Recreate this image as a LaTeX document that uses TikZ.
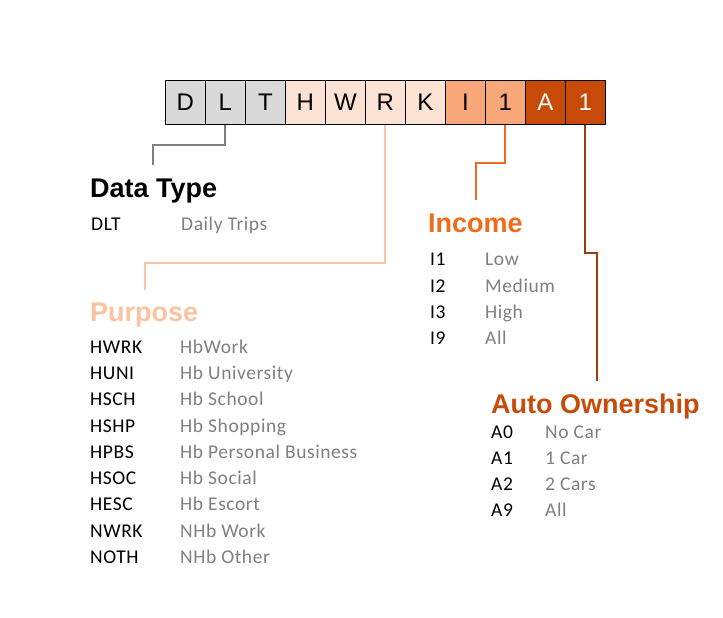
\documentclass[tikz,border=0pt]{standalone}
\usepackage{fontspec}
\setmainfont{Liberation Sans}
\newfontfamily\listfont[LetterSpace=3]{Carlito}
\definecolor{cgray}{HTML}{D9D9D9}
\definecolor{cpeach}{HTML}{FCE2D2}
\definecolor{cmid}{HTML}{F8A878}
\definecolor{cdark}{HTML}{C84A08}
\definecolor{lgray}{HTML}{7F7F7F}
\definecolor{lpeach}{HTML}{F9C7A6}
\definecolor{lorange}{HTML}{F26B1D}
\definecolor{ldark}{HTML}{9A3C0E}
\definecolor{hpeach}{HTML}{FAC3A2}
\definecolor{hdark}{HTML}{C84B0A}
\definecolor{desc}{HTML}{808080}
\begin{document}
\begin{tikzpicture}[x=1pt,y=-1pt,
  cell/.style={draw=black,line width=0.8pt,minimum width=40pt,minimum height=44pt,inner sep=0pt,anchor=north west,font=\fontsize{24}{24}\selectfont},
  head/.style={anchor=base west,inner sep=0pt,font=\fontsize{27}{27}\selectfont\bfseries},
  code/.style={anchor=base west,inner sep=0pt,font=\listfont\fontsize{19.5}{20}\selectfont,text=black},
  dsc/.style={anchor=base west,inner sep=0pt,font=\listfont\fontsize{19.5}{20}\selectfont,text=desc},
  conn/.style={line width=2pt}]
\useasboundingbox[fill=white] (0,0) rectangle (723,618);
% code boxes
\node[cell,fill=cgray] (b1) at (165,80) {D};
\node[cell,fill=cgray] (b2) at (205,80) {L};
\node[cell,fill=cgray] (b3) at (245,80) {T};
\node[cell,fill=cpeach] (b4) at (285,80) {H};
\node[cell,fill=cpeach] (b5) at (325,80) {W};
\node[cell,fill=cpeach] (b6) at (365,80) {R};
\node[cell,fill=cpeach] (b7) at (405,80) {K};
\node[cell,fill=cmid] (b8) at (445,80) {I};
\node[cell,fill=cmid] (b9) at (485,80) {1};
\node[cell,fill=cdark,text=white] (b10) at (525,80) {A};
\node[cell,fill=cdark,text=white] (b11) at (565,80) {1};
% connectors
\coordinate (dtEnd) at (153,165);
\coordinate (puEnd) at (145,290);
\coordinate (inEnd) at (476,200);
\coordinate (aoEnd) at (597,381);
\draw[conn,lgray] (b2.south) -- ++(0,20) -| (dtEnd);
\draw[conn,lpeach] (b6.south) -- ++(0,138) -| (puEnd);
\draw[conn,lorange] (b9.south) -- ++(0,38) -| (inEnd);
\draw[conn,ldark] (b11.south) -- ++(0,128) -| (aoEnd);
% Data Type
\node[head] (hdt) at (90,197) {Data Type};
\node[code] (c1) at (91,230.5) {DLT};
\node[dsc] (d1) at (181,230.5) {Daily Trips};
% Income
\node[head,text=lorange] (hin) at (428,232.5) {Income};
\node[code] (i1) at (430,265.7) {I1};
\node[dsc] (j1) at (485,265.7) {Low};
\node[code] (i2) at (430,292) {I2};
\node[dsc] (j2) at (485,292) {Medium};
\node[code] (i3) at (430,318.3) {I3};
\node[dsc] (j3) at (485,318.3) {High};
\node[code] (i4) at (430,344.6) {I9};
\node[dsc] (j4) at (485,344.6) {All};
% Purpose
\node[head,text=hpeach] (hpu) at (90,321.5) {Purpose};
\node[code] (p1) at (90,353.3) {HWRK};
\node[dsc] (q1) at (180,353.3) {HbWork};
\node[code] (p2) at (90,379.55) {HUNI};
\node[dsc] (q2) at (180,379.55) {Hb University};
\node[code] (p3) at (90,405.8) {HSCH};
\node[dsc] (q3) at (180,405.8) {Hb School};
\node[code] (p4) at (90,432.05) {HSHP};
\node[dsc] (q4) at (180,432.05) {Hb Shopping};
\node[code] (p5) at (90,458.3) {HPBS};
\node[dsc] (q5) at (180,458.3) {Hb Personal Business};
\node[code] (p6) at (90,484.55) {HSOC};
\node[dsc] (q6) at (180,484.55) {Hb Social};
\node[code] (p7) at (90,510.8) {HESC};
\node[dsc] (q7) at (180,510.8) {Hb Escort};
\node[code] (p8) at (90,537.05) {NWRK};
\node[dsc] (q8) at (180,537.05) {NHb Work};
\node[code] (p9) at (90,563.3) {NOTH};
\node[dsc] (q9) at (180,563.3) {NHb Other};
% Auto Ownership
\node[head,text=hdark] (hao) at (491,413.3) {Auto Ownership};
\node[code] (a1) at (491,438.3) {A0};
\node[dsc] (e1) at (545,438.3) {No Car};
\node[code] (a2) at (491,464.3) {A1};
\node[dsc] (e2) at (545,464.3) {1 Car};
\node[code] (a3) at (491,490.3) {A2};
\node[dsc] (e3) at (545,490.3) {2 Cars};
\node[code] (a4) at (491,516.3) {A9};
\node[dsc] (e4) at (545,516.3) {All};
\end{tikzpicture}
\end{document}
